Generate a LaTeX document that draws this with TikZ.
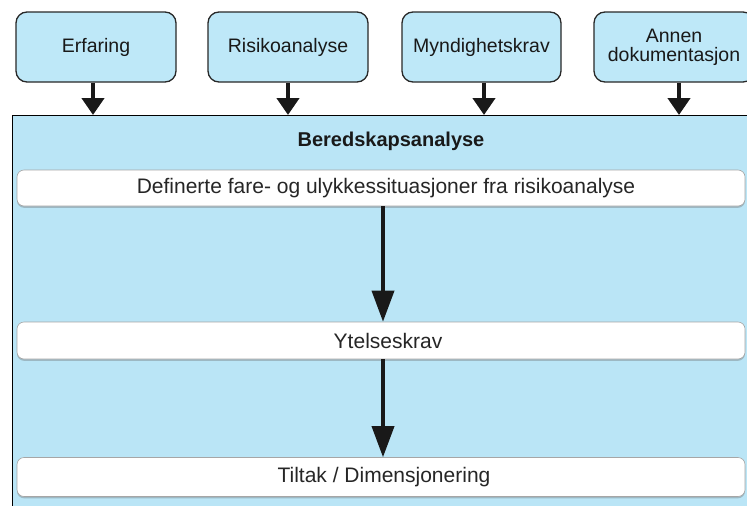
\documentclass[tikz,border=0pt]{standalone}
\usepackage{fontspec}
\setmainfont{Liberation Sans}
\usetikzlibrary{arrows.meta,shadows}
\definecolor{topblue}{RGB}{190,232,248}
\definecolor{bigblue}{RGB}{186,229,246}
\definecolor{edgegray}{RGB}{40,40,40}
\tikzset{
  srcbox/.style={draw=edgegray, line width=1.3pt, fill=topblue, rounded corners=11pt,
    minimum width=160pt, minimum height=70pt, align=center,
    font=\fontsize{19.5}{21}\selectfont, text=black!90, inner sep=2pt},
  bigbox/.style={draw=black, line width=1.3pt, fill=bigblue, minimum width=760pt,
    minimum height=420pt, inner sep=0pt},
  barbox/.style={draw=black!35, line width=0.6pt, fill=white, rounded corners=7pt,
    minimum width=728pt, inner sep=0pt,
    drop shadow={shadow xshift=0pt, shadow yshift=-1.8pt, opacity=0.35, fill=black!60},
    font=\fontsize{21}{23}\selectfont, text=black!85},
  fatarrow/.style={line width=4.5pt, draw=black!90,
    -{Triangle[width=22pt,length=17pt]}},
  midarrow/.style={line width=3.6pt, draw=black!90,
    -{Triangle[width=22pt,length=31pt]}},
}
\begin{document}
\begin{tikzpicture}[x=1pt,y=-1pt]
\useasboundingbox (0,0) rectangle (747,506);
\clip (0,0) rectangle (747,506);
\fill[white] (0,0) rectangle (747,506);
% source boxes
\node[srcbox] (erf) at (96,47) {Erfaring};
\node[srcbox] (ris) at (288,47) {Risikoanalyse};
\node[srcbox, minimum width=159pt] (myn) at (481.5,47) {Myndighetskrav};
\node[srcbox] (ann) at (674,47) {Annen\\[-2pt]dokumentasjon};
% big box
\node[bigbox, anchor=north west] (big) at (12,115) {};
\node[font=\fontsize{20}{22}\selectfont\bfseries, text=black!90] (title) at (391,141) {Beredskapsanalyse};
% bars
\node[barbox, minimum height=36pt] (b1) at (381,188) {\hspace*{10pt}Definerte fare- og ulykkessituasjoner fra risikoanalyse};
\node[barbox, minimum height=37pt] (b2) at (381,340.5) {\hspace*{14pt}Ytelseskrav};
\node[barbox, minimum height=39pt] (b3) at (381,477) {\hspace*{6pt}Tiltak / Dimensjonering};
% arrows from sources
\draw[fatarrow] ([xshift=-3pt]erf.south) -- ([xshift=-3pt]erf.south |- big.north);
\draw[fatarrow] (ris.south) -- (ris.south |- big.north);
\draw[fatarrow] ([xshift=2.5pt]myn.south) -- ([xshift=2.5pt]myn.south |- big.north);
\draw[fatarrow] ([xshift=5pt]ann.south) -- ([xshift=5pt]ann.south |- big.north);
% arrows between bars
\coordinate (c1) at ([xshift=2pt]b1.south);
\coordinate (c2) at ([xshift=2pt]b2.north);
\coordinate (c3) at ([xshift=2pt]b2.south);
\coordinate (c4) at ([xshift=2pt]b3.north);
\draw[midarrow] (c1) -- (c2);
\draw[midarrow] (c3) -- (c4);
\end{tikzpicture}
\end{document}
